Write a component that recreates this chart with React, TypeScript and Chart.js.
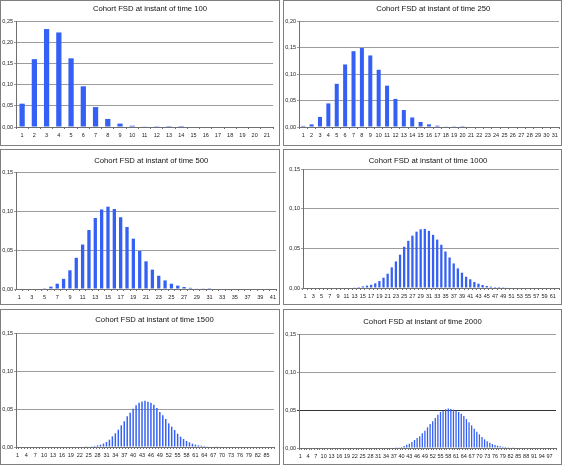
import React, { useEffect, useRef } from "react";
import { Chart, registerables } from "chart.js";

Chart.register(...registerables);

// ---------- DATA ----------
const range = (n: number) => Array.from({ length: n }, (_, i) => String(i + 1));

const cats100 = range(21);
const cats250 = range(31);
const cats500 = range(41);
const cats1000 = range(62);
const cats1500 = range(87);
const cats2000 = range(99);

const fsd100 = [
  0.055, 0.16, 0.231, 0.223, 0.162, 0.096, 0.047, 0.019, 0.008, 0.003, 0.0015,
  0.0005, 0.0002, 0.0001, 0, 0, 0, 0, 0, 0, 0,
];

const fsd250 = [
  0.002, 0.005, 0.019, 0.0445, 0.0815, 0.118, 0.143, 0.149, 0.135, 0.108, 0.078,
  0.053, 0.032, 0.018, 0.0095, 0.005, 0.0025, 0.0012, 0.0005, 0.0002, 0, 0, 0, 0,
  0, 0, 0, 0, 0, 0, 0,
];

const fsd500 = [
  0, 0, 0, 0, 0.0003, 0.003, 0.0068, 0.013, 0.024, 0.04, 0.057, 0.0756, 0.091,
  0.102, 0.1055, 0.1026, 0.092, 0.0795, 0.0645, 0.0487, 0.0355, 0.0248, 0.017,
  0.011, 0.0068, 0.0043, 0.0026, 0.0015, 0.0008, 0.0004, 0.0002, 0, 0, 0, 0, 0,
  0, 0, 0, 0, 0,
];

const fsd1000 = [
  0, 0, 0, 0, 0, 0, 0, 0, 0, 0, 0, 0, 0.0004, 0.0012, 0.002, 0.003, 0.004,
  0.0059, 0.0088, 0.013, 0.018, 0.026, 0.0335, 0.042, 0.052, 0.0595, 0.066,
  0.071, 0.074, 0.0745, 0.072, 0.067, 0.061, 0.0545, 0.046, 0.0385, 0.031,
  0.0247, 0.0193, 0.0142, 0.011, 0.0075, 0.0054, 0.0038, 0.0025, 0.0017, 0.0012,
  0.0012, 0.001, 0.0005, 0, 0, 0, 0, 0, 0, 0, 0, 0, 0, 0, 0,
];

const fsd1500 = [
  0, 0, 0, 0, 0, 0, 0, 0, 0, 0, 0, 0, 0, 0, 0, 0, 0, 0, 0, 0, 0, 0, 0, 0.0003,
  0.0007, 0.001, 0.0015, 0.0022, 0.003, 0.0045, 0.0066, 0.0096, 0.014, 0.018,
  0.0228, 0.0285, 0.0338, 0.0404, 0.0452, 0.0504, 0.0548, 0.0583, 0.06, 0.061,
  0.0597, 0.0583, 0.0557, 0.0513, 0.046, 0.0417, 0.0368, 0.0311, 0.0268, 0.0224,
  0.0175, 0.0136, 0.0105, 0.0079, 0.0061, 0.0044, 0.0031, 0.0022, 0.0018, 0.0013,
  0.0009, 0.0008, 0.0007, 0.0004, 0, 0, 0, 0, 0, 0, 0, 0, 0, 0, 0, 0, 0, 0, 0,
  0, 0, 0, 0,
];

const fsd2000 = [
  0, 0, 0, 0, 0, 0, 0, 0, 0, 0, 0, 0, 0, 0, 0, 0, 0, 0, 0, 0, 0, 0, 0, 0, 0, 0,
  0, 0, 0, 0, 0, 0, 0, 0, 0, 0, 0, 0.0004, 0.0009, 0.0013, 0.0026, 0.0044,
  0.0057, 0.0079, 0.0105, 0.0132, 0.0154, 0.0193, 0.0228, 0.0272, 0.0316,
  0.0351, 0.0395, 0.0439, 0.0474, 0.049, 0.051, 0.052, 0.0513, 0.0504, 0.049,
  0.0474, 0.045, 0.042, 0.038, 0.0338, 0.0298, 0.0254, 0.0215, 0.018, 0.0145,
  0.0114, 0.0088, 0.007, 0.0053, 0.004, 0.003, 0.0022, 0.0018, 0.0013, 0.0009,
  0.0006, 0.0003, 0, 0, 0, 0, 0, 0, 0, 0, 0, 0, 0, 0, 0, 0, 0,
];

const titles = [
  "Cohort FSD at instant of time 100",
  "Cohort FSD at instant of time 250",
  "Cohort FSD at instant of time 500",
  "Cohort FSD at instant of time 1000",
  "Cohort FSD at instant of time 1500",
  "Cohort FSD at instant of time 2000",
];

const yMax = [0.25, 0.2, 0.15, 0.15, 0.15, 0.15];
const yStep = 0.05;
const labelEvery = [1, 1, 2, 2, 3, 3];

// ---------- LAYOUT / STYLE ----------
const FONT = "'Liberation Sans', Arial, sans-serif";
const BAR = "#3560f5";
const GRID = "#9c9c9c";
const AXIS = "#6f6f6f";

type PanelCfg = {
  left: number; top: number; w: number; h: number;
  yW: number; padR: number; padT: number; xH: number;
  tx: number; ty: number; barPct: number; darkAt?: number;
};

const layout: PanelCfg[] = [
  { left: 0, top: 0, w: 280, h: 146, yW: 15, padR: 6, padT: 20, xH: 18, tx: 149, ty: 8.3, barPct: 0.43 },
  { left: 283, top: 0, w: 279, h: 146, yW: 15, padR: 2, padT: 20, xH: 18, tx: 149.3, ty: 8.3, barPct: 0.48 },
  { left: 0, top: 149, w: 280, h: 156, yW: 15, padR: 2, padT: 22, xH: 15, tx: 150.3, ty: 10.7, barPct: 0.52 },
  { left: 283, top: 149, w: 279, h: 156, yW: 19, padR: 2, padT: 19, xH: 16, tx: 144, ty: 10.7, barPct: 0.55 },
  { left: 0, top: 309, w: 280, h: 156, yW: 15, padR: 5, padT: 23, xH: 17, tx: 153.5, ty: 10, barPct: 0.5 },
  { left: 283, top: 309, w: 279, h: 156, yW: 15, padR: 5, padT: 24, xH: 16, tx: 138.5, ty: 11.7, barPct: 0.5, darkAt: 0.05 },
];

const categoriesList = [cats100, cats250, cats500, cats1000, cats1500, cats2000];
const valuesList = [fsd100, fsd250, fsd500, fsd1000, fsd1500, fsd2000];

function Panel({ idx }: { idx: number }) {
  const ref = useRef<HTMLCanvasElement | null>(null);
  const cfg = layout[idx];
  const cw = cfg.w - 2;
  const ch = cfg.h - 2;

  useEffect(() => {
    if (!ref.current) return;
    const labels = categoriesList[idx];
    const every = labelEvery[idx];
    const titlePlugin = {
      id: "panelTitle",
      afterDraw(chart: any) {
        const ctx = chart.ctx;
        ctx.save();
        ctx.font = `7.7px ${FONT}`;
        ctx.fillStyle = "#111";
        ctx.textAlign = "center";
        ctx.textBaseline = "middle";
        ctx.fillText(titles[idx], cfg.tx, cfg.ty);
        ctx.restore();
      },
    };
    const chart = new Chart(ref.current, {
      type: "bar",
      data: {
        labels,
        datasets: [
          {
            data: valuesList[idx],
            backgroundColor: BAR,
            borderWidth: 0,
            barPercentage: cfg.barPct,
            categoryPercentage: 1,
          },
        ],
      },
      options: {
        responsive: false,
        maintainAspectRatio: false,
        animation: false,
        events: [],
        layout: { padding: { left: 0, right: cfg.padR, top: cfg.padT, bottom: 0 } },
        plugins: {
          legend: { display: false },
          tooltip: { enabled: false },
          title: { display: false },
        },
        scales: {
          x: {
            offset: true,
            grid: {
              display: true,
              offset: true,
              drawOnChartArea: false,
              drawTicks: true,
              tickLength: 2,
              color: AXIS,
            },
            border: { display: true, color: AXIS },
            ticks: {
              autoSkip: false,
              maxRotation: 0,
              minRotation: 0,
              padding: 3,
              color: "#222",
              font: { size: 5.5, family: FONT },
              callback: (_v: any, i: number) => (i % every === 0 ? labels[i] : ""),
            },
            afterFit: (s: any) => {
              s.height = cfg.xH;
            },
          },
          y: {
            min: 0,
            max: yMax[idx],
            ticks: {
              stepSize: yStep,
              padding: 1,
              color: "#222",
              font: { size: 5.5, family: FONT },
              callback: (v: any) => Number(v).toFixed(2).replace(".", ","),
            },
            grid: {
              tickLength: 2,
              color: (c: any) =>
                cfg.darkAt !== undefined && c.tick && Math.abs(c.tick.value - cfg.darkAt) < 1e-9
                  ? "#333"
                  : GRID,
            },
            border: { display: true, color: AXIS },
            afterFit: (s: any) => {
              s.width = cfg.yW;
            },
          },
        },
      },
      plugins: [titlePlugin],
    });
    return () => chart.destroy();
  }, [idx]);

  return (
    <div
      style={{
        position: "absolute",
        left: cfg.left,
        top: cfg.top,
        width: cfg.w,
        height: cfg.h,
        boxSizing: "border-box",
        border: "1px solid #7f7f7f",
        background: "#fff",
      }}
    >
      <canvas ref={ref} width={cw} height={ch} style={{ display: "block", width: cw, height: ch }} />
    </div>
  );
}

export default function App() {
  return (
    <div
      style={{
        position: "absolute",
        left: 0,
        top: 0,
        width: 562,
        height: 465,
        background: "#fff",
        overflow: "hidden",
      }}
    >
      {layout.map((_, i) => (
        <Panel key={i} idx={i} />
      ))}
    </div>
  );
}
